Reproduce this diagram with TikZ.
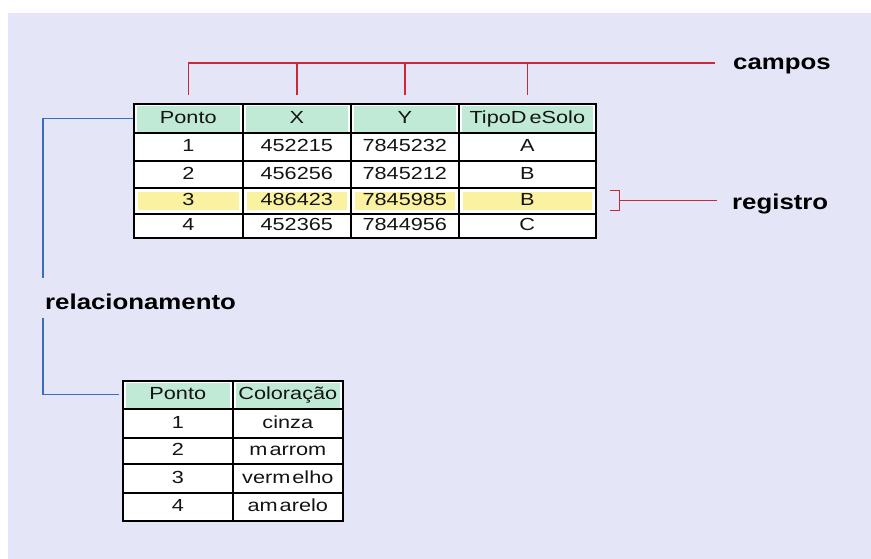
\documentclass[tikz,border=0pt]{standalone}
\usepackage{fontspec}
\newfontfamily\tabfont{Liberation Sans}[FakeStretch=1.24]
\newfontfamily\labfont{Liberation Sans}[FakeStretch=1.2]
\definecolor{lav}{RGB}{229,229,248}
\definecolor{mint}{RGB}{192,234,214}
\definecolor{yel}{RGB}{250,242,160}
\definecolor{redl}{RGB}{205,40,55}
\definecolor{bluel}{RGB}{60,110,190}
\definecolor{txt}{RGB}{20,20,20}
\begin{document}
\begin{tikzpicture}[x=1pt,y=-1pt,
  cell/.style={draw=black,line width=1.6pt,anchor=north west,inner sep=0pt,fill=white,
    font=\tabfont\fontsize{17.5}{19}\selectfont,text=txt,text height=1em,text depth=0pt},
  hcell/.style={cell,path picture={\fill[mint] ([shift={(3pt,-2pt)}]path picture bounding box.north west) rectangle ([shift={(-3pt,1pt)}]path picture bounding box.south east);}},
  ycell/.style={cell,path picture={\fill[yel] ([shift={(4pt,-4pt)}]path picture bounding box.north west) rectangle ([shift={(-4pt,4pt)}]path picture bounding box.south east);}},
  lab/.style={font=\labfont\bfseries\fontsize{21.5}{24}\selectfont,text=black,inner sep=0pt},
  redline/.style={draw=redl,line width=1.4pt},
  blueline/.style={draw=bluel,line width=1.2pt}]
\useasboundingbox (0,0) rectangle (871,559);
\fill[white] (0,0) rectangle (871,559);
\fill[lav] (8,13) rectangle (871,559);

% ---- main table ----
% header
\node[hcell,minimum width=109,minimum height=29] (A00) at (133,103) {Ponto};
\node[hcell,minimum width=108,minimum height=29] (A01) at (242,103) {X};
\node[hcell,minimum width=108,minimum height=29] (A02) at (350,103) {Y};
\node[hcell,minimum width=137,minimum height=29] (A03) at (458,103) {TipoD\kern3pt eSolo};
% row 1
\node[cell,minimum width=109,minimum height=28] (A10) at (133,132) {1};
\node[cell,minimum width=108,minimum height=28] (A11) at (242,132) {452215};
\node[cell,minimum width=108,minimum height=28] (A12) at (350,132) {7845232};
\node[cell,minimum width=137,minimum height=28] (A13) at (458,132) {A};
% row 2
\node[cell,minimum width=109,minimum height=27] (A20) at (133,160) {2};
\node[cell,minimum width=108,minimum height=27] (A21) at (242,160) {456256};
\node[cell,minimum width=108,minimum height=27] (A22) at (350,160) {7845212};
\node[cell,minimum width=137,minimum height=27] (A23) at (458,160) {B};
% row 3
\node[ycell,minimum width=109,minimum height=26] (A30) at (133,187) {3};
\node[ycell,minimum width=108,minimum height=26] (A31) at (242,187) {486423};
\node[ycell,minimum width=108,minimum height=26] (A32) at (350,187) {7845985};
\node[ycell,minimum width=137,minimum height=26] (A33) at (458,187) {B};
% row 4
\node[cell,minimum width=109,minimum height=24] (A40) at (133,213) {4};
\node[cell,minimum width=108,minimum height=24] (A41) at (242,213) {452365};
\node[cell,minimum width=108,minimum height=24] (A42) at (350,213) {7844956};
\node[cell,minimum width=137,minimum height=24] (A43) at (458,213) {C};

% ---- small table ----
\node[hcell,minimum width=110,minimum height=28] (B00) at (122,380) {Ponto};
\node[hcell,minimum width=110,minimum height=28] (B01) at (232,380) {Coloração};
\node[cell,minimum width=110,minimum height=29] (B10) at (122,408) {1};
\node[cell,minimum width=110,minimum height=29] (B11) at (232,408) {cinza};
\node[cell,minimum width=110,minimum height=26] (B20) at (122,437) {2};
\node[cell,minimum width=110,minimum height=26] (B21) at (232,437) {m\kern2pt arrom};
\node[cell,minimum width=110,minimum height=29] (B30) at (122,463) {3};
\node[cell,minimum width=110,minimum height=29] (B31) at (232,463) {verm\kern2pt elho};
\node[cell,minimum width=110,minimum height=28] (B40) at (122,492) {4};
\node[cell,minimum width=110,minimum height=28] (B41) at (232,492) {am\kern2pt arelo};

% ---- labels ----
\node[lab,anchor=base west] (campos) at (733,70) {campos};
\node[lab,anchor=base west] (registro) at (732,210) {registro};
\node[lab,anchor=base west] (relac) at (45,309) {relacionamento};

% ---- campos connector ----
\coordinate (cend) at (715,63);
\draw[redline] ([yshift=8pt]A00.north) |- (cend);
\foreach \c in {1,2,3}{
  \draw[redline] ([yshift=8pt]A0\c.north) -- (A0\c.north |- cend);
}

% ---- registro connector ----
\path (A33.east) ++(120,0) coordinate (rend);
\draw[redline] ([xshift=13pt,yshift=10pt]A33.east) -- ++(10,0) -- ++(0,20) -- ++(-10,0);
\draw[redline] ([xshift=23pt]A33.east) -- (rend);

% ---- relacionamento connector ----
\coordinate (ra) at (43,278);
\coordinate (rb) at (43,318);
\draw[blueline] (ra) |- (A00.west);
\draw[blueline] (rb) |- ([xshift=-3pt]B00.west);
\end{tikzpicture}
\end{document}
